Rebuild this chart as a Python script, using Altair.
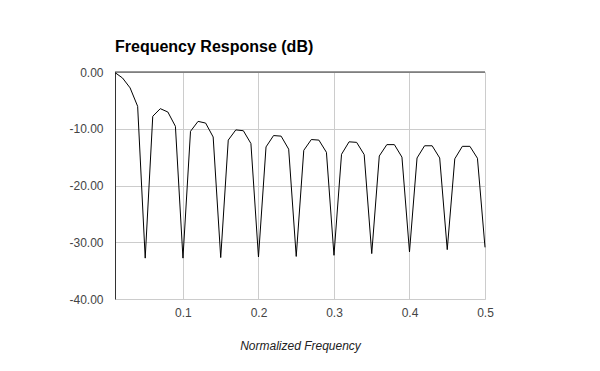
import altair as alt
import pandas as pd

freq = [0.01, 0.02, 0.03, 0.04, 0.05, 0.06, 0.07, 0.08, 0.09, 0.10,
        0.11, 0.12, 0.13, 0.14, 0.15, 0.16, 0.17, 0.18, 0.19, 0.20,
        0.21, 0.22, 0.23, 0.24, 0.25, 0.26, 0.27, 0.28, 0.29, 0.30,
        0.31, 0.32, 0.33, 0.34, 0.35, 0.36, 0.37, 0.38, 0.39, 0.40,
        0.41, 0.42, 0.43, 0.44, 0.45, 0.46, 0.47, 0.48, 0.49, 0.50]
db = [-0.1, -1.06, -2.8, -6.05, -32.8, -7.8, -6.46, -7.05, -9.57, -32.8,
      -10.45, -8.7, -9.0, -11.45, -32.7, -12.0, -10.2, -10.35, -12.6, -32.6,
      -13.2, -11.2, -11.3, -13.6, -32.5, -13.8, -11.9, -12.0, -14.15, -32.3,
      -14.5, -12.3, -12.4, -14.55, -32.0, -14.8, -12.8, -12.8, -15.0, -31.7,
      -15.15, -13.0, -13.0, -15.15, -31.3, -15.3, -13.1, -13.1, -15.2, -30.9]
x_ticks = [0.1, 0.2, 0.3, 0.4, 0.5]
y_ticks = [-40, -30, -20, -10, 0]

df = pd.DataFrame({"f": freq, "db": db})
FONT = "Liberation Sans"

base = alt.Chart(df)

line = base.mark_line(color="#000000", strokeWidth=1).encode(
    x=alt.X("f:Q",
            scale=alt.Scale(domain=[0.01, 0.5], nice=False, zero=False),
            axis=alt.Axis(values=x_ticks, format=".1f", title="Normalized Frequency",
                          titleFontStyle="italic", titleFontWeight="normal",
                          titleFontSize=12, titleFont=FONT, titleColor="#222222",
                          titlePadding=22, labelFont=FONT, labelFontSize=12,
                          labelColor="#444444", labelPadding=8, ticks=False,
                          grid=True, gridColor="#cccccc", domainColor="#cccccc",
                          labelFlush=False)),
    y=alt.Y("db:Q",
            scale=alt.Scale(domain=[-40, 0], nice=False),
            axis=alt.Axis(values=y_ticks, title=None,
                          labelExpr="replace(format(datum.value, '.2f'), '\u2212', '-')",
                          labelFont=FONT, labelFontSize=12, labelColor="#444444",
                          labelPadding=12, ticks=False, grid=True,
                          gridColor="#cccccc", domainColor="#333333")),
)

zero = alt.Chart(pd.DataFrame({"z": [0]})).mark_rule(
    color="#333333", strokeWidth=1).encode(y=alt.Y("z:Q"))

chart = alt.layer(line, zero).properties(
    width=370,
    height=227,
    title=alt.TitleParams("Frequency Response (dB)", anchor="start", frame="group",
                          font=FONT, fontSize=16, fontWeight="bold",
                          color="#000000", baseline="alphabetic", offset=-2),
    autosize=alt.AutoSizeParams(type="none"),
    padding={"left": 107, "top": 64, "right": 100, "bottom": 55},
).configure_view(stroke=None)

chart.save("out.html", embed_options={"renderer": "svg", "actions": False})
